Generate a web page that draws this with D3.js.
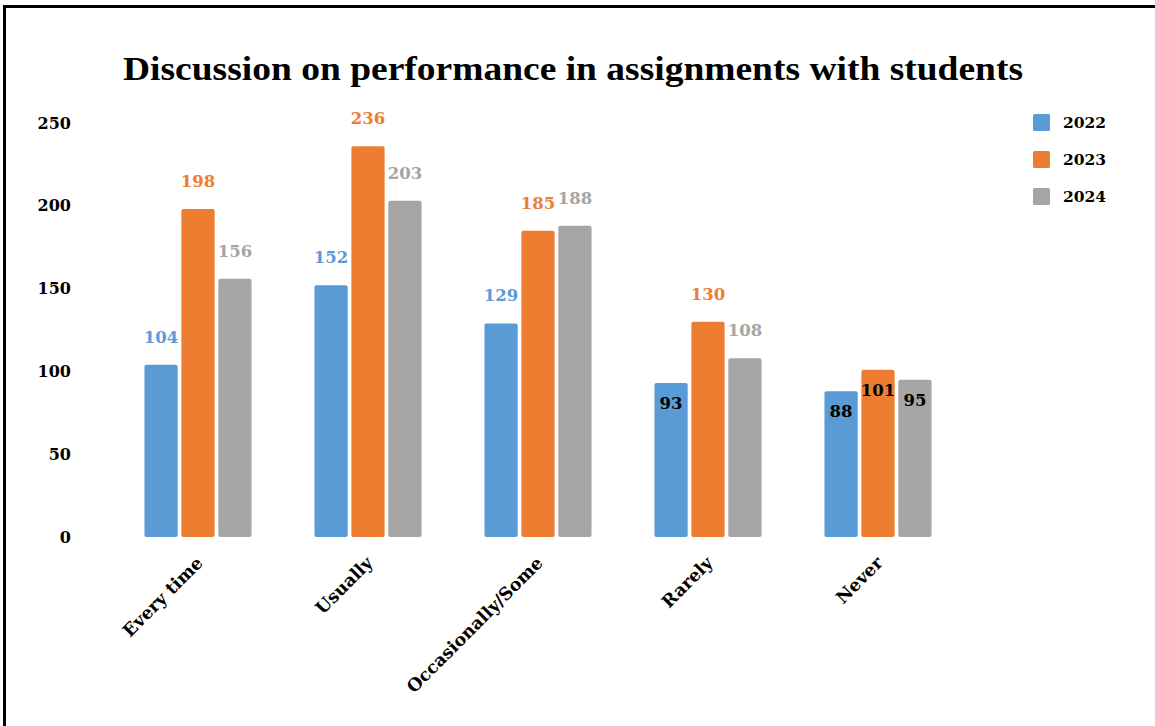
<!DOCTYPE html>
<html>
<head>
<meta charset="utf-8">
<script src="https://cdn.jsdelivr.net/npm/d3@7"></script>
<style>
  html, body { margin: 0; padding: 0; background: #fff; }
  svg { display: block; }
  text { font-family: Georgia, 'DejaVu Serif', serif; font-weight: bold; }
</style>
</head>
<body>
<svg id="chart" width="1155" height="726"></svg>
<script>
const categories = ["Every time", "Usually", "Occasionally/Some", "Rarely", "Never"];
const years = ["2022", "2023", "2024"];
const values2022 = [104, 152, 129, 93, 88];
const values2023 = [198, 236, 185, 130, 101];
const values2024 = [156, 203, 188, 108, 95];
const yTicks = [0, 50, 100, 150, 200, 250];
const colors = ["#5B9BD5", "#ED7D31", "#A5A5A5"];
const titleText = "Discussion on performance in assignments with students";

const series = [values2022, values2023, values2024];
const svg = d3.select("#chart");

// frame
svg.append("rect").attr("x", 4.5).attr("y", 6.5).attr("width", 1200).attr("height", 800)
  .attr("fill", "none").attr("stroke", "#000").attr("stroke-width", 3);

const y = d3.scaleLinear().domain([0, 250]).range([537, 123]);
const x0 = d3.scaleBand().domain(categories).range([113, 963]).paddingInner(0.37).paddingOuter(0.185);
const x1 = d3.scaleBand().domain(years).range([0, x0.bandwidth()]).paddingInner(0.1);
const color = d3.scaleOrdinal().domain(years).range(colors);

// title
svg.append("text").attr("x", 573).attr("y", 80).attr("text-anchor", "middle")
  .attr("font-size", 33).attr("fill", "#000")
  .style("font-family", "'Liberation Serif', 'Times New Roman', serif")
  .attr("textLength", 900).attr("lengthAdjust", "spacingAndGlyphs")
  .text(titleText);

// y axis
const yAxis = d3.axisLeft(y).tickValues(yTicks).tickSize(0).tickPadding(0);
const gy = svg.append("g").attr("transform", "translate(71,0)").call(yAxis);
gy.select(".domain").remove();
gy.selectAll("text").attr("font-size", 16).attr("fill", "#000")
  .style("font-family", "Georgia, 'DejaVu Serif', serif").style("font-weight", "bold");

// x axis labels
const xAxis = d3.axisBottom(x0).tickSize(0).tickPadding(0);
const gx = svg.append("g").attr("transform", "translate(0,537)").call(xAxis);
gx.select(".domain").remove();
gx.selectAll("text")
  .attr("font-size", 17.5).attr("fill", "#000")
  .style("font-family", "Georgia, 'DejaVu Serif', serif").style("font-weight", "bold")
  .attr("text-anchor", "end").attr("dy", null)
  .attr("transform", "translate(6,27) rotate(-45)");

// bars
const rows = categories.map((c, i) => ({ cat: c, vals: years.map((yr, j) => ({ yr, v: series[j][i] })) }));
const groups = svg.append("g").selectAll("g").data(rows).join("g")
  .attr("transform", d => `translate(${x0(d.cat)},0)`);

groups.selectAll("rect").data(d => d.vals).join("rect")
  .attr("x", d => x1(d.yr)).attr("width", x1.bandwidth())
  .attr("y", d => y(d.v)).attr("height", d => y(0) - y(d.v))
  .attr("rx", 2).attr("fill", d => color(d.yr));

groups.selectAll("text.lbl").data(d => d.vals).join("text")
  .attr("class", "lbl")
  .attr("x", d => x1(d.yr) + x1.bandwidth() / 2)
  .attr("y", d => d.v < 102 ? y(d.v) + 26 : y(d.v) - 22)
  .attr("text-anchor", "middle").attr("font-size", 16.5)
  .attr("fill", d => d.v < 102 ? "#000" : color(d.yr))
  .text(d => d.v);

// legend
const lg = svg.append("g").selectAll("g").data(years).join("g")
  .attr("transform", (d, i) => `translate(1033,${114 + i * 37})`);
lg.append("rect").attr("width", 17).attr("height", 17).attr("rx", 1.5).attr("fill", d => color(d));
lg.append("text").attr("x", 30).attr("y", 14).attr("font-size", 15.5).attr("fill", "#000").text(d => d);
</script>
</body>
</html>
